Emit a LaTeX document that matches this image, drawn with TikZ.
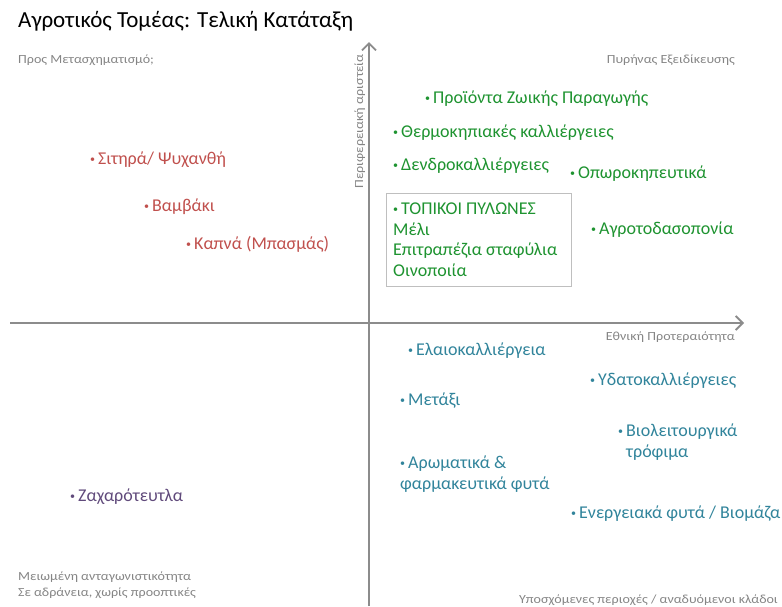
\documentclass[tikz,border=0pt]{standalone}
\usepackage{fontspec}
\setmainfont{Carlito}
\newfontfamily\widefont{Carlito}[FakeStretch=1.13]
\usetikzlibrary{arrows.meta}
\definecolor{axisgray}{HTML}{8C8C8C}
\definecolor{labgray}{HTML}{858585}
\definecolor{qgreen}{HTML}{1E9330}
\definecolor{qred}{HTML}{C0504D}
\definecolor{qteal}{HTML}{31849B}
\definecolor{qpurple}{HTML}{604A7B}
\tikzset{
  axis/.style={draw=axisgray, line width=2pt, -{Straight Barb[length=7pt,width=14pt,line width=1.8pt]}},
  corner/.style={font=\widefont\fontsize{12.4}{15.5}\selectfont, text=labgray, inner sep=0pt},
  item/.style={font=\fontsize{18}{21}\selectfont, inner sep=0pt, anchor=west, align=left},
  gitem/.style={item, text=qgreen},
  ritem/.style={item, text=qred},
  titem/.style={item, text=qteal},
  pitem/.style={item, text=qpurple},
  framebox/.style={draw=black!25, line width=0.8pt},
}
\newcommand{\bul}{{\fontsize{10}{10}\selectfont\raisebox{2pt}{•}}\,}
\begin{document}
\begin{tikzpicture}[x=1pt,y=-1pt]
\useasboundingbox (0,0) rectangle (782,606);
% axes
\coordinate (xs) at (10,323);
\coordinate (xe) at (744,323);
\coordinate (ys) at (369,606);
\coordinate (ye) at (369,42);
\draw[axis] (xs) -- (xe);
\draw[axis] (ys) -- (ye);
% title
\node[anchor=base west, inner sep=0pt, font=\fontsize{23}{27}\selectfont] (title) at (18,27) {Αγροτικός Τομέας: Τελική Κατάταξη};
% corner labels
\node[corner, anchor=base west] (tl) at (18,63) {Προς Μετασχηματισμό;};
\node[corner, anchor=base east] (tr) at (735,63) {Πυρήνας Εξειδίκευσης};
\node[corner, anchor=base west] (bl1) at (18,580) {Μειωμένη ανταγωνιστικότητα};
\node[corner, anchor=base west] (bl2) at (18,596) {Σε αδράνεια, χωρίς προοπτικές};
\node[corner, anchor=base east] (br) at (778,603) {Υποσχόμενες περιοχές / αναδυόμενοι κλάδοι};
\node[corner, anchor=base east] (xl) at (735,340) {Εθνική Προτεραιότητα};
\node[corner, anchor=base east, rotate=90] (yl) at (363,54) {Περιφερειακή αριστεία};
% green quadrant
\node[gitem] (g1) at (425,99) {\bul Προϊόντα Ζωικής Παραγωγής};
\node[gitem] (g2) at (393,133) {\bul Θερμοκηπιακές καλλιέργειες};
\node[gitem] (g3) at (393,166) {\bul Δενδροκαλλιέργειες};
\node[gitem] (g4) at (570,174) {\bul Οπωροκηπευτικά};
\draw[framebox] (386,193) rectangle (571,286);
\node[gitem, anchor=north west, font=\fontsize{18}{20.5}\selectfont] (g5) at (393,203) {\bul ΤΟΠΙΚΟΙ ΠΥΛΩΝΕΣ\\Μέλι\\Επιτραπέζια σταφύλια\\Οινοποιία};
\node[gitem] (g6) at (591,230) {\bul Αγροτοδασοπονία};
% red quadrant
\node[ritem] (r1) at (90,160) {\bul Σιτηρά/ Ψυχανθή};
\node[ritem] (r2) at (144,207) {\bul Βαμβάκι};
\node[ritem] (r3) at (186,244) {\bul Καπνά (Μπασμάς)};
% teal quadrant
\node[titem] (t1) at (408,351) {\bul Ελαιοκαλλιέργεια};
\node[titem] (t2) at (590,381) {\bul Υδατοκαλλιέργειες};
\node[titem] (t3) at (400,401) {\bul Μετάξι};
\node[titem, anchor=north west] (t4) at (618,424) {\bul Βιολειτουργικά\\\hphantom{\bul}τρόφιμα};
\node[titem, anchor=north west] (t5) at (400,456) {\bul Αρωματικά \&\\φαρμακευτικά φυτά};
\node[titem] (t6) at (571,514) {\bul Ενεργειακά φυτά / Βιομάζα};
% purple
\node[pitem] (p1) at (70,497) {\bul Ζαχαρότευτλα};
\end{tikzpicture}
\end{document}
